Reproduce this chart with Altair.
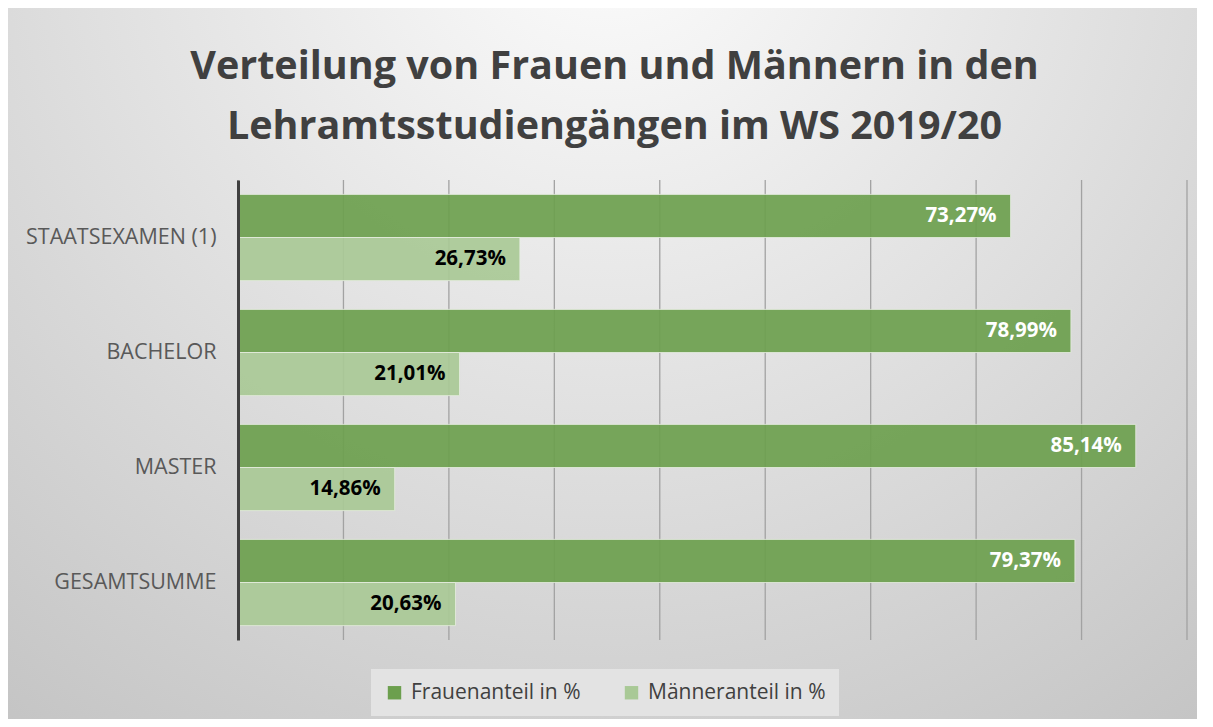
import altair as alt
import pandas as pd

title_lines = ["Verteilung von Frauen und Männern in den",
               "Lehramtsstudiengängen im WS 2019/20"]
categories = ["STAATSEXAMEN (1)", "BACHELOR", "MASTER", "GESAMTSUMME"]
series = ["Frauenanteil in %", "Männeranteil in %"]
frauen = [73.27, 78.99, 85.14, 79.37]
maenner = [26.73, 21.01, 14.86, 20.63]
grid_ticks = [0, 10, 20, 30, 40, 50, 60, 70, 80, 90]

rows = []
for i, c in enumerate(categories):
    for s, v, tc in ((series[0], frauen[i], "#ffffff"), (series[1], maenner[i], "#000000")):
        rows.append({"cat": c, "series": s, "value": v,
                     "label": f"{v:.2f}".replace(".", ",") + "%", "tcolor": tc})
df = pd.DataFrame(rows)

W, H = 949, 460
PL, PT, PR, PB = 230, 172, 10, 79

xscale = alt.Scale(domain=[0, 90], nice=False, zero=True)
yscale = alt.Scale(domain=categories, paddingInner=0.25, paddingOuter=0.125)

one = pd.DataFrame({"a": [0]})

bg = alt.Chart(one).mark_rect(
    color=alt.Gradient(
        gradient="radial", x1=0.5, y1=0.12, r1=0.0, x2=0.5, y2=0.12, r2=0.85,
        stops=[alt.GradientStop(color="#fdfdfd", offset=0),
               alt.GradientStop(color="#c4c4c4", offset=1)]),
    clip=False,
).encode(x=alt.value(-PL), x2=alt.value(W + PR + 10),
         y=alt.value(-PT), y2=alt.value(H + PB))

title = alt.Chart(one).mark_text(
    text=title_lines, align="center", baseline="alphabetic", lineHeight=60,
    fontSize=39.5, font="Open Sans", fontWeight="bold", color="#404040", clip=False,
).encode(x=alt.value(W / 2 - 98), y=alt.value(-101))

grid = alt.Chart(pd.DataFrame({"g": grid_ticks})).mark_rule(
    color="#a2a2a2", strokeWidth=1.3
).encode(x=alt.X("g:Q", scale=xscale, axis=None))

bars = alt.Chart(df).mark_bar(
    fillOpacity=0.92, stroke="#e6eee0", strokeWidth=1, strokeOpacity=0.8
).encode(
    y=alt.Y("cat:N", scale=yscale, sort=categories,
            axis=alt.Axis(title=None, ticks=False, labelPadding=22, labelFontSize=21.5,
                          labelColor="#595959", labelFont="Open Sans",
                          domainColor="#404040", domainWidth=3, zindex=1,
                          labelLimit=400)),
    yOffset=alt.YOffset("series:N", sort=series),
    x=alt.X("value:Q", scale=xscale, axis=None),
    color=alt.Color("series:N", sort=series,
                    scale=alt.Scale(domain=series, range=["#6c9f4e", "#a9c996"]),
                    legend=alt.Legend(title=None, orient="none", legendX=133, legendY=H + 29,
                                      direction="horizontal", symbolType="square",
                                      symbolSize=180, symbolStrokeWidth=0,
                                      labelFontSize=21, labelFont="Open Sans",
                                      labelColor="#404040", columnPadding=40,
                                      labelLimit=400, labelOffset=6,
                                      fillColor="#e3e3e3", padding=13)),
)

text = alt.Chart(df).mark_text(
    align="right", baseline="middle", dx=-14, fontSize=20.5, fontWeight="bold",
    font="Open Sans"
).encode(
    y=alt.Y("cat:N", scale=yscale, sort=categories),
    yOffset=alt.YOffset("series:N", sort=series),
    x=alt.X("value:Q", scale=xscale),
    text="label:N",
    color=alt.Color("tcolor:N", scale=None),
)

chart = alt.layer(bg, title, grid, bars, text).properties(
    width=W, height=H,
    autosize=alt.AutoSizeParams(type="none"),
    padding={"left": PL, "top": PT, "right": PR, "bottom": PB},
).configure_view(stroke=None).configure(background="#ffffff")

chart.save("out.html", embed_options={"renderer": "svg", "actions": False})
